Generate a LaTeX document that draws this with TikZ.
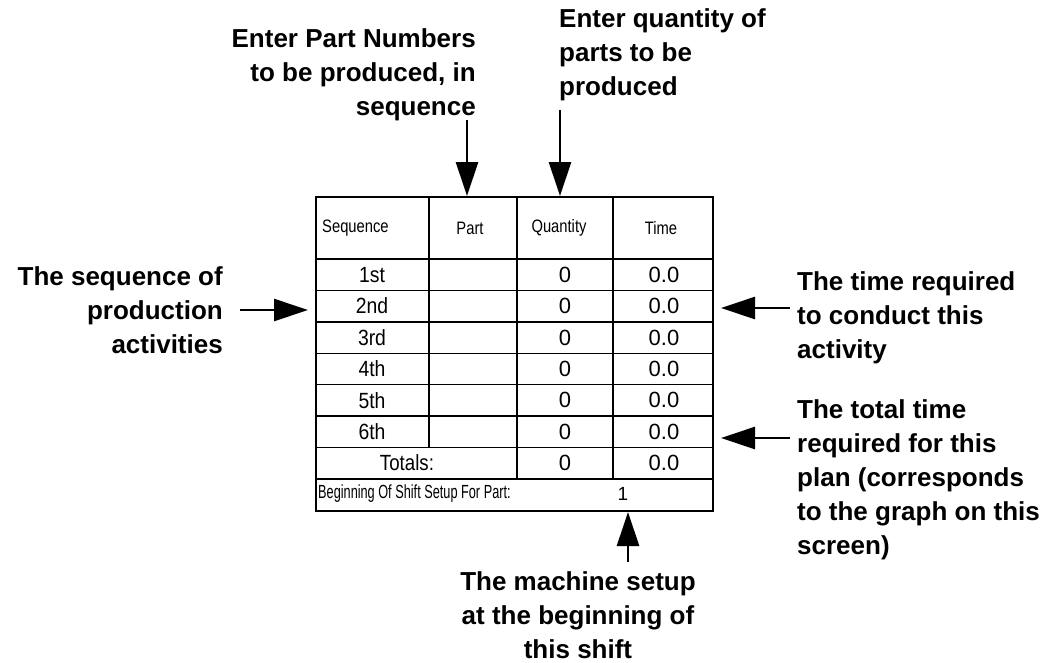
\documentclass[tikz,border=0pt]{standalone}
\usepackage{fontspec}
\setmainfont{Liberation Sans}
\usetikzlibrary{arrows.meta}
\newcommand{\cnd}[2][0.92]{\scalebox{#1}[1]{#2}}
\begin{document}
\begin{tikzpicture}[x=1pt,y=-1pt,
  note/.style={font=\fontsize{26}{34}\selectfont\bfseries, inner sep=0pt},
  cell/.style={font=\fontsize{22}{24}\selectfont, inner sep=0pt},
  head/.style={font=\fontsize{18}{20}\selectfont, inner sep=0pt},
  arr/.style={line width=2.6pt, -{Triangle[length=34pt,width=22pt]}},
  outer/.style={line width=2pt},
  gridline/.style={line width=1.4pt}]
\useasboundingbox (0,0) rectangle (1061,662);

% table frame
\node[draw, outer, minimum width=397pt, minimum height=314pt, anchor=north west, inner sep=0pt] (tbl) at (315,196) {};
% horizontal lines
\foreach \yy in {259,290.4,321.8,353.2,384.6,416,447.4,478.8}
  \draw[gridline] (315,\yy) -- (712,\yy);
% vertical lines
\draw[gridline] (429,196) -- (429,447.4);
\draw[gridline] (517,196) -- (517,478.8);
\draw[gridline] (613,196) -- (613,478.8);

% header
\node[head, anchor=west] (hseq) at (322,228) {\cnd[0.82]{Sequence}};
\node[head] (hpart) at (470,228) {\cnd[0.82]{Part}};
\node[head] (hqty) at (559,228) {\cnd[0.82]{Quantity}};
\node[head] (htime) at (661,228) {\cnd[0.82]{Time}};

% rows
\foreach \lab [count=\i] in {1st,2nd,3rd,4th,5th,6th} {
  \node[cell] (r\i) at (372,{259+31.4*(\i-1)+15.7}) {\cnd[0.88]{\lab}};
  \node[cell] (q\i) at (565,{259+31.4*(\i-1)+15.7}) {0};
  \node[cell] (t\i) at (664,{259+31.4*(\i-1)+15.7}) {0.0};
}
\node[cell] (tot) at (407,463) {\cnd[0.85]{Totals:}};
\node[cell] (qtot) at (565,463) {0};
\node[cell] (ttot) at (664,463) {0.0};
\node[font=\fontsize{19}{21}\selectfont, inner sep=0pt, anchor=west] (beg) at (318,494) {\cnd[0.67]{Beginning Of Shift Setup For Part:}};
\node[font=\fontsize{19}{21}\selectfont, inner sep=0pt] (begv) at (623,494) {1};

% annotations
\node[note, align=right, anchor=east] (nA) at (476,75) {Enter Part Numbers\\to be produced, in\\sequence};
\node[note, align=left, anchor=west] (nB) at (559,55) {Enter quantity of\\parts to be\\produced};
\node[note, align=right, anchor=east] (nC) at (223,310) {The sequence of\\production\\activities};
\node[note, align=left, anchor=west] (nD) at (797,318) {The time required\\to conduct this\\activity};
\node[note, align=left, anchor=west] (nE) at (797,480) {The total time\\required for this\\plan (corresponds\\to the graph on this\\screen)};
\node[note, align=center] (nF) at (578,615) {The machine setup\\at the beginning of\\this shift};

% arrows
\coordinate (sA) at (467,120);
\coordinate (sB) at (560,110);
\coordinate (sC) at (240,310);
\coordinate (eC) at (308,310);
\coordinate (sD) at (790,308);
\coordinate (eD) at (721,308);
\coordinate (sE) at (790,438);
\coordinate (eE) at (721,438);
\coordinate (sF) at (628,562);
\draw[arr] (sA) -- (sA |- tbl.north);
\draw[arr] (sB) -- (sB |- tbl.north);
\draw[arr] (sC) -- (eC);
\draw[arr] (sD) -- (eD);
\draw[arr] (sE) -- (eE);
\draw[arr] (sF) -- (sF |- tbl.south);
\end{tikzpicture}
\end{document}
